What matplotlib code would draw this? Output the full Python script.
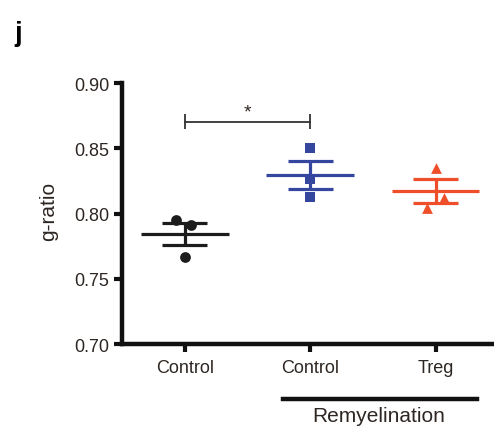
import numpy as np
import matplotlib
matplotlib.use("Agg")
import matplotlib.pyplot as plt

plt.rcParams["font.family"] = ["Liberation Sans", "DejaVu Sans"]

# ================= DATA =================
groups = ["Control", "Control", "Treg"]
ctrl_vals = [0.795, 0.791, 0.767]
remy_ctrl_vals = [0.850, 0.8265, 0.8124]
treg_vals = [0.835, 0.812, 0.804]
jitter = [[-0.07, 0.05, 0.0], [0.0, 0.0, 0.0], [0.0, 0.065, -0.065]]
yticks = [0.70, 0.75, 0.80, 0.85, 0.90]
# =========================================

colors = ["#1c1c1c", "#34469e", "#ee4f2a"]
markers = ["o", "s", "^"]
TXT = "#2e2622"

fig = plt.figure(figsize=(4.94, 4.31), dpi=100)
ax = fig.add_axes([0.247, 0.1995, 0.749, 0.6055])

for i, vals in enumerate([ctrl_vals, remy_ctrl_vals, treg_vals]):
    vals = np.array(vals)
    m = vals.mean()
    sem = vals.std(ddof=1) / np.sqrt(len(vals))
    xs = i + np.array(jitter[i])
    ax.scatter(xs, vals, marker=markers[i], color=colors[i], s=60, zorder=3,
               linewidths=0)
    ax.hlines(m, i - 0.35, i + 0.35, color=colors[i], lw=2.3, zorder=2)
    ax.hlines([m - sem, m + sem], i - 0.18, i + 0.18, color=colors[i], lw=2.3, zorder=2)
    ax.vlines(i, m - sem, m + sem, color=colors[i], lw=2.3, zorder=2)

# significance bracket
by = 0.8704
ax.plot([0, 1], [by, by], color="#333333", lw=1.3)
ax.vlines([0, 1], by - 0.006, by + 0.006, color="#333333", lw=1.3)
ax.text(0.5, by + 0.001, "*", ha="center", va="bottom", fontsize=14, color=TXT)

ax.set_xlim(-0.5, 2.45)
ax.set_ylim(0.70, 0.90)
ax.set_yticks(yticks)
ax.set_yticklabels([f"{v:.2f}" for v in yticks])
ax.set_xticks([0, 1, 2])
ax.set_xticklabels(groups)
ax.set_ylabel("g-ratio", fontsize=15, color=TXT)
ax.yaxis.set_label_coords(-0.172, 0.513)

for s in ["top", "right"]:
    ax.spines[s].set_visible(False)
for s in ["left", "bottom"]:
    ax.spines[s].set_linewidth(3.2)
    ax.spines[s].set_color("#111111")
ax.tick_params(axis="both", direction="out", length=6, width=3, color="#111111",
               labelsize=13, labelcolor=TXT)
ax.tick_params(axis="x", pad=5)
ax.tick_params(axis="y", pad=3)

# Remyelination group line
ax.plot([0.78, 2.33], [0.658, 0.658], color="#111111", lw=3.2, clip_on=False)
ax.text(1.546, 0.641, "Remyelination", ha="center", va="baseline", fontsize=15,
        color=TXT, clip_on=False)

fig.text(0.03, 0.922, "j", fontsize=20, fontweight="bold", ha="left", va="center")

fig.savefig("out.png", dpi=100)
